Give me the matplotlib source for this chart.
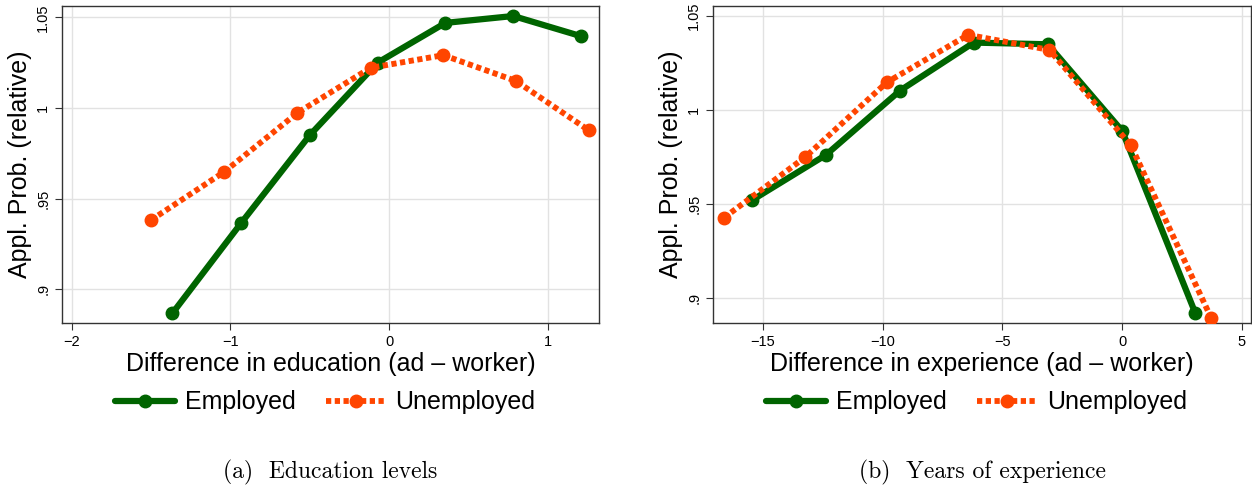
import matplotlib
matplotlib.use("Agg")
import matplotlib.pyplot as plt

plt.rcParams['font.family'] = ['Liberation Sans', 'DejaVu Sans']

# Panel (a): education
edu_emp_x = [-1.365, -0.934, -0.501, -0.073, 0.353, 0.780, 1.209]
edu_emp_y = [0.8868, 0.9364, 0.9850, 1.0251, 1.0470, 1.0508, 1.0396]
edu_unemp_x = [-1.500, -1.039, -0.578, -0.118, 0.340, 0.796, 1.254]
edu_unemp_y = [0.9382, 0.9648, 0.9974, 1.0222, 1.0292, 1.0150, 0.9878]

# Panel (b): experience
exp_emp_x = [-15.45, -12.38, -9.28, -6.20, -3.11, 0.00, 3.06]
exp_emp_y = [0.9522, 0.9761, 1.0103, 1.0358, 1.0349, 0.9889, 0.8920]
exp_unemp_x = [-16.63, -13.24, -9.83, -6.43, -3.04, 0.36, 3.72]
exp_unemp_y = [0.9428, 0.9750, 1.0147, 1.0399, 1.0319, 0.9813, 0.8895]

yticks = [0.9, 0.95, 1.0, 1.05]
ytick_labels = ['.9', '.95', '1', '1.05']

green = '#006400'
orange = '#ff4500'

fig = plt.figure(figsize=(12.52, 4.88), dpi=100)
ax1 = fig.add_axes([0.0495, 0.338, 0.429, 0.650])
ax2 = fig.add_axes([0.5695, 0.338, 0.4297, 0.650])

panels = [
    (ax1, edu_emp_x, edu_emp_y, edu_unemp_x, edu_unemp_y, [-2, -1, 0, 1],
     (-2.06, 1.32), (0.8814, 1.0564), 'Difference in education (ad \u2013 worker)',
     '(a)  Education levels'),
    (ax2, exp_emp_x, exp_emp_y, exp_unemp_x, exp_unemp_y, [-15, -10, -5, 0, 5],
     (-17.09, 5.38), (0.8869, 1.0553), 'Difference in experience (ad \u2013 worker)',
     '(b)  Years of experience'),
]

for ax, ex, ey, ux, uy, xt, xl, yl, xlabel, caption in panels:
    ax.plot(ex, ey, color=green, lw=4.5, marker='o', ms=9, label='Employed',
            solid_capstyle='round', zorder=3)
    ax.plot(ux, uy, color=orange, lw=4.2, marker='o', ms=9, dashes=(0.9, 0.6),
            label='Unemployed', zorder=4)
    ax.set_xlim(*xl)
    ax.set_ylim(*yl)
    ax.set_xticks(xt)
    ax.set_yticks(yticks)
    ax.set_yticklabels(ytick_labels)
    for lab in ax.get_yticklabels():
        lab.set_rotation(90)
        lab.set_va('center')
    ax.grid(True, color='#e2e2e2', lw=1)
    ax.set_axisbelow(True)
    ax.tick_params(direction='out', length=5, width=0.8, labelsize=10.5, colors='#333333')
    ax.tick_params(labelcolor='black')
    for sp in ax.spines.values():
        sp.set_linewidth(1.0)
        sp.set_color('#333333')
    ax.set_xlabel(xlabel, fontsize=18, labelpad=2)
    ax.set_ylabel('Appl. Prob. (relative)', fontsize=18, labelpad=3)
    ax.legend(loc='center', bbox_to_anchor=(0.49, -0.25), ncol=2, frameon=False,
              fontsize=18, handlelength=2.4, columnspacing=1.2, handletextpad=0.4)
    pos = ax.get_position()
    fig.text(pos.x0 + pos.width / 2, 0.031, caption, ha='center', va='center',
             fontsize=17, family='cmr10')

fig.savefig('out.png', dpi=100)
